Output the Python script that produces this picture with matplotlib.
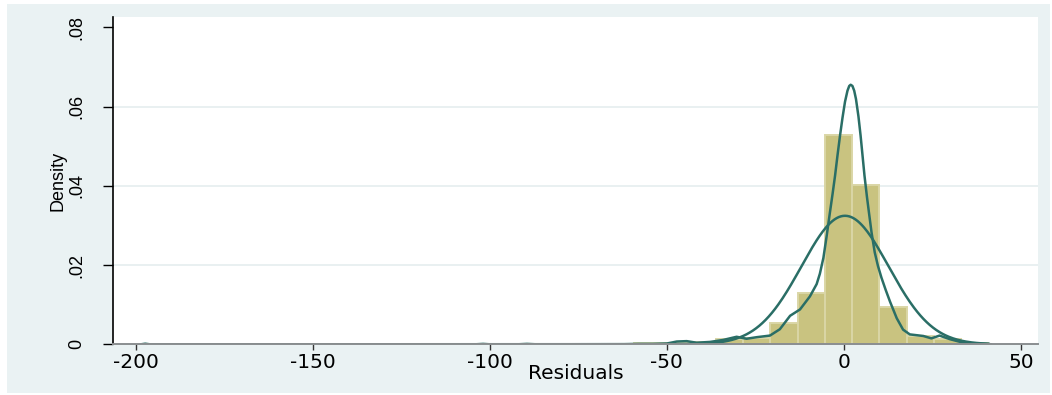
import numpy as np
import matplotlib
matplotlib.use("Agg")
import matplotlib.pyplot as plt
from matplotlib.patches import Rectangle

# Histogram of residuals (density scale)
bin_start = -197.9
bin_width = 7.7
bin_density = [
    0.0001, 0.0, 0.0, 0.0, 0.0, 0.0, 0.0, 0.0, 0.0, 0.0,
    0.0, 0.0, 0.0001, 0.0, 0.0001, 0.0, 0.0, 0.0001, 0.0003, 0.0004,
    0.0006, 0.00126, 0.00166, 0.0054, 0.013, 0.0527, 0.0402, 0.0093, 0.0021, 0.0013,
    0.0003,
]

# Kernel density estimate of the residuals
kde_x = [-198.5, -197.3, -196.0, -104.0, -101.9, -100.0, -92.0, -89.5, -87.0,
         -62.0, -58.0, -54.0, -50.0, -47.2, -44.4, -41.6, -37.8, -34.1, -30.3,
         -27.5, -24.6, -20.9, -18.1, -15.2, -12.4, -9.6, -7.7, -6.8, -5.8, -4.9,
         -4.0, -3.2, -2.5, -1.8, -1.1, -0.4, 0.3, 1.0, 1.5, 1.9, 2.4, 2.9, 3.4,
         4.1, 4.7, 5.3, 5.8, 6.5, 7.1, 7.8, 8.7, 9.6, 10.6, 11.8, 13.0,
         14.9, 16.7, 18.6, 20.5, 22.4, 24.7, 27.0, 29.9, 33.7, 37.0, 40.3, 41.5]
kde_y = [0.0, 0.00015, 0.0, 0.0, 0.0001, 0.0, 0.0, 0.0001, 0.0,
         0.00003, 0.0001, 0.0001, 0.0002, 0.0007, 0.0008, 0.0004, 0.0006, 0.0011, 0.0019,
         0.0014, 0.0018, 0.0022, 0.0038, 0.0072, 0.0088, 0.0121, 0.0152, 0.0178, 0.0218, 0.0272,
         0.0330, 0.0380, 0.0426, 0.0478, 0.0527, 0.0572, 0.0612, 0.0640, 0.0652, 0.0655, 0.0652, 0.0640, 0.0619,
         0.0575, 0.0527, 0.0472, 0.0426, 0.0372, 0.0330, 0.0282, 0.0232, 0.0198, 0.0168, 0.0137, 0.0108,
         0.0066, 0.0037, 0.0025, 0.0023, 0.0021, 0.0015, 0.0022, 0.0013, 0.0004, 0.0002, 0.0001, 0.0]

# Normal density overlay
resid_mean = 0.3
resid_sd = 12.3
resid_min = -198.0
resid_max = 41.0

x_ticks = [-200, -150, -100, -50, 0, 50]
x_tick_labels = ["-200", "-150", "-100", "-50", "0", "50"]
y_ticks = [0, 0.02, 0.04, 0.06, 0.08]
y_tick_labels = ["0", ".02", ".04", ".06", ".08"]

BG = "#EAF2F3"
BAR = "#C9C380"
BAR_EDGE = "#DAD6A6"
LINE = "#2A6E66"
GRID = "#E3ECEE"

W, H = 1052, 395
fig = plt.figure(figsize=(W / 100, H / 100), dpi=100, facecolor="white")
fig.patches.append(Rectangle((7 / W, 2 / H), (1050 - 7) / W, (391 - 2) / H,
                             transform=fig.transFigure, facecolor=BG,
                             edgecolor="none", zorder=-10))

ax = fig.add_axes([113 / W, (H - 344.3) / H, (1038 - 113) / W, (344.3 - 17) / H])
ax.set_facecolor("white")

edges = bin_start + bin_width * np.arange(len(bin_density) + 1)
ax.bar(edges[:-1], bin_density, width=bin_width, align="edge",
       color=BAR, edgecolor=BAR_EDGE, linewidth=1.4, zorder=2)

xn = np.linspace(resid_min, resid_max, 800)
yn = np.exp(-0.5 * ((xn - resid_mean) / resid_sd) ** 2) / (resid_sd * np.sqrt(2 * np.pi))
ax.plot(xn, yn, color=LINE, lw=1.8, zorder=3, solid_capstyle="round")
ax.plot(kde_x, kde_y, color=LINE, lw=1.8, zorder=4, solid_joinstyle="round")

ax.set_xlim(-206.4, 54.8)
ax.set_ylim(0, 0.0826)

for yv in y_ticks[1:4]:
    ax.axhline(yv, color=GRID, lw=1.1, zorder=1)

for side in ("top", "right"):
    ax.spines[side].set_visible(False)
ax.spines["left"].set_color("black")
ax.spines["left"].set_linewidth(1.2)
ax.spines["bottom"].set_color("#8A8E90")
ax.spines["bottom"].set_linewidth(1.4)
ax.spines["bottom"].set_zorder(5)

ax.set_xticks(x_ticks)
ax.set_xticklabels(x_tick_labels, family="DejaVu Sans", fontsize=14.5)
ax.set_yticks(y_ticks)
ax.set_yticklabels(y_tick_labels, family="Liberation Sans", fontsize=13,
                   rotation=90, va="center")
ax.tick_params(axis="x", length=4.5, width=1.0, color="#333333", pad=2)
ax.tick_params(axis="y", length=7.2, width=1.0, color="black", pad=13)

ax.set_xlabel("Residuals", family="DejaVu Sans", fontsize=14.5, labelpad=-6)
ax.set_ylabel("Density", family="Liberation Sans", fontsize=13, labelpad=1)

fig.savefig("out.png", dpi=100, facecolor=fig.get_facecolor())
